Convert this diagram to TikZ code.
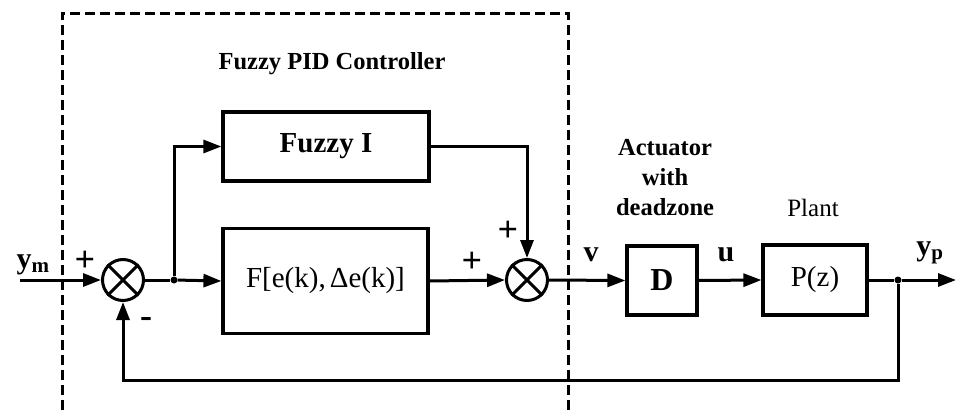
\documentclass[tikz,border=0pt]{standalone}
\usepackage{fontspec}
\setmainfont{Liberation Serif}
\usetikzlibrary{arrows.meta, positioning, calc}
\tikzset{
  wire/.style={line width=3pt, draw=black},
  arrow/.style={wire, -{Triangle[length=18pt, width=13pt]}},
  block/.style={rectangle, draw=black, line width=3.2pt, inner sep=0pt},
  sum_node/.style={circle, draw=black, line width=3pt, minimum size=41pt, inner sep=0pt},
  frame/.style={line width=3pt, dash pattern=on 10pt off 5pt},
  dot/.style={circle, fill=black, inner sep=0pt, minimum size=7pt},
  sign_label/.style={font=\bfseries\fontsize{36}{36}\selectfont, inner sep=0pt},
  sig_label/.style={font=\bfseries\fontsize{30}{30}\selectfont, inner sep=0pt},
  title_label/.style={font=\bfseries\fontsize{24.5}{30}\selectfont, align=center, inner sep=0pt}
}
\begin{document}
\begin{tikzpicture}[x=1pt, y=-1pt]
    \useasboundingbox (0,0) rectangle (956,410);

    % Marco del controlador
    \coordinate (fr_bl) at (62,410);
    \coordinate (fr_tl) at (62,13);
    \coordinate (fr_tr) at (568,13);
    \coordinate (fr_br) at (568,410);
    \draw[frame] (fr_bl) -- (fr_tl) -- (fr_tr) -- (fr_br);
    \node[title_label] (ctrl) at (332,64) {Fuzzy PID Controller};

    % Bloques
    \node[block, minimum width=206pt, minimum height=69pt, font=\bfseries\fontsize{29}{29}\selectfont] (fuzzyI) at (326,146.5) {Fuzzy I};
    \node[block, minimum width=205pt, minimum height=105pt, font=\fontsize{29}{29}\selectfont] (fpd) at (325.5,281) {F[e(k),$\,$Δe(k)]};
    \node[block, minimum width=70pt, minimum height=69pt, font=\bfseries\fontsize{32}{32}\selectfont] (dz) at (662,280.5) {D};
    \node[block, minimum width=104pt, minimum height=70pt, font=\fontsize{29}{29}\selectfont] (plant) at (815,280) {P(z)};

    % Sumadores
    \node[sum_node] (s1) at (123,280) {};
    \node[sum_node] (s2) at (527,280) {};
    \draw[wire] (s1.north west) -- (s1.south east) (s1.north east) -- (s1.south west);
    \draw[wire] (s2.north west) -- (s2.south east) (s2.north east) -- (s2.south west);

    % Puntos de bifurcacion
    \coordinate (ym_in) at (20,280);
    \node[dot] (j1) at (174,280) {};
    \node[dot] (j2) at (898,280) {};
    \coordinate (yp_out) at (956,280);
    \coordinate (fb_c) at (898,380);

    % Conexiones
    \draw[arrow] (ym_in) -- (s1.west);
    \draw[wire] (s1.east) -- (j1);
    \draw[arrow] (j1) -- (fpd.west);
    \draw[arrow] (j1) |- (fuzzyI.west);
    \draw[arrow] (fuzzyI.east) -| (s2.north);
    \draw[arrow] (fpd.east) -- (s2.west);
    \draw[arrow] (s2.east) -- (dz.west);
    \draw[arrow] (dz.east) -- (plant.west);
    \draw[wire] (plant.east) -- (j2);
    \draw[arrow] (j2) -- (yp_out);
    \draw[arrow] (j2) -- (fb_c) -| (s1.south);

    % Etiquetas
    \node[sig_label] (ym) at (33,265) {y\textsubscript{m}};
    \node[sign_label] (p1) at (85,261) {+};
    \node[sign_label] (m1) at (146,322) {-};
    \node[sign_label] (p2) at (472,262) {+};
    \node[sign_label] (p3) at (508,231) {+};
    \node[sig_label] (v) at (591,255) {v};
    \node[sig_label] (u) at (726,255) {u};
    \node[sig_label] (yp) at (930,253) {y\textsubscript{p}};
    \node[title_label] (act) at (665,178) {Actuator\\with\\deadzone};
    \node[title_label, font=\fontsize{25}{30}\selectfont] (plt) at (813,208) {Plant};
\end{tikzpicture}
\end{document}
